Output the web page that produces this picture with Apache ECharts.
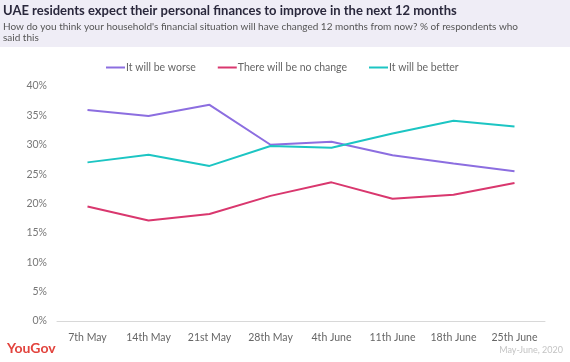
<!DOCTYPE html>
<html><head><meta charset="utf-8">
<script src="https://cdn.jsdelivr.net/npm/echarts@6/dist/echarts.min.js"></script>
<style>html,body{margin:0;padding:0;background:#fff}#c{width:570px;height:362px}</style>
</head><body><div id="c"></div>
<script>
const categories = ['7th May','14th May','21st May','28th May','4th June','11th June','18th June','25th June'];
const worse = [35.9, 34.9, 36.8, 30.0, 30.5, 28.2, 26.8, 25.5];
const noChange = [19.5, 17.1, 18.2, 21.3, 23.6, 20.8, 21.5, 23.5];
const better = [27.0, 28.3, 26.4, 29.8, 29.5, 31.9, 34.1, 33.1];
const seriesNames = ['It will be worse','There will be no change','It will be better'];
const colors = ['#8c6ee0','#d9376e','#1cc5c3'];
const font = 'Lato, "Open Sans", sans-serif';
const chart = echarts.init(document.getElementById('c'));
chart.setOption({
  textStyle:{fontFamily:font},
  graphic:[
    {type:'rect',shape:{x:0,y:0,width:570,height:47},style:{fill:'#efedf6'},silent:true,z:-1},
    {type:'text',left:3,top:4,style:{text:'UAE residents expect their personal finances to improve in the next 12 months',font:'bold 13px '+font,fill:'#2a283c'}},
    {type:'text',left:3,top:21,style:{text:"How do you think your household's financial situation will have changed 12 months from now? % of respondents who\nsaid this",font:'10px '+font,fill:'#555',lineHeight:11}},
    {type:'text',left:7,top:341,style:{text:'YouGov',font:'bold 14px '+font,fill:'#e2433d'}},
    {type:'text',right:7,top:346,style:{text:'May-June, 2020',font:'9px '+font,fill:'#c4c4c4'}}
  ],
  legend:{top:57,left:101,itemWidth:19,itemHeight:2,itemGap:22,icon:'rect',
    textStyle:{color:'#666',fontSize:10.5,fontFamily:font,padding:[0,0,0,-4]},data:seriesNames},
  grid:{left:57,right:25,top:86,bottom:41},
  xAxis:{type:'category',data:categories,boundaryGap:true,
    axisLine:{lineStyle:{color:'#d8d8d8'}},axisTick:{show:false},
    axisLabel:{color:'#666',fontSize:10.5,margin:11,interval:0,fontFamily:font}},
  yAxis:{type:'value',min:0,max:40,interval:5,
    axisLabel:{formatter:'{value}%',color:'#777',fontSize:10.5,margin:10,fontFamily:font},
    splitLine:{show:false},axisLine:{show:false},axisTick:{show:false}},
  series:[
    {name:seriesNames[0],type:'line',data:worse,color:colors[0],symbol:'none',lineStyle:{width:2}},
    {name:seriesNames[1],type:'line',data:noChange,color:colors[1],symbol:'none',lineStyle:{width:2}},
    {name:seriesNames[2],type:'line',data:better,color:colors[2],symbol:'none',lineStyle:{width:2}}
  ]
});
</script></body></html>
